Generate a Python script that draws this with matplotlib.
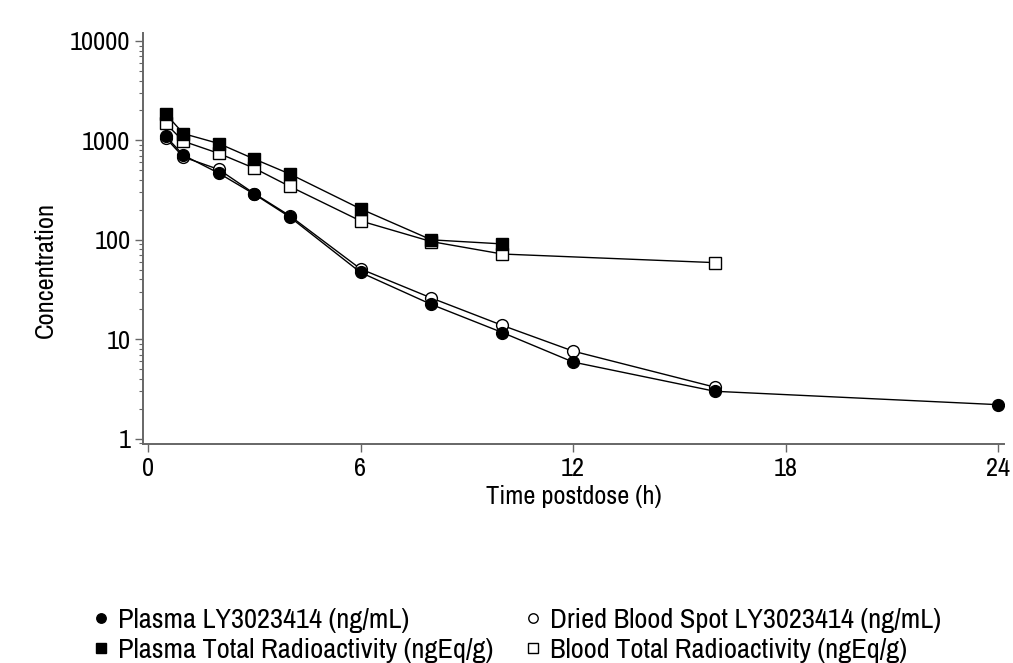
import matplotlib
matplotlib.use("Agg")
import matplotlib.pyplot as plt
from matplotlib.ticker import LogLocator, FixedLocator, NullFormatter

plt.rcParams['font.family'] = ['Archivo Narrow', 'Roboto Condensed', 'Liberation Sans', 'DejaVu Sans']

# Data
time_plasma_ly = [0.5, 1, 2, 3, 4, 6, 8, 10, 12, 16, 24]
plasma_ly = [1100, 710, 468, 288, 170, 47, 22.4, 11.7, 5.9, 3.0, 2.2]

time_dbs_ly = [0.5, 1, 2, 3, 4, 6, 8, 10, 12, 16]
dbs_ly = [1060, 680, 510, 292, 175, 51, 26, 13.8, 7.6, 3.3]

time_plasma_tra = [0.5, 1, 2, 3, 4, 6, 8, 10]
plasma_tra = [1850, 1170, 930, 650, 460, 205, 100, 91]

time_blood_tra = [0.5, 1, 2, 3, 4, 6, 8, 10, 16]
blood_tra = [1480, 980, 740, 525, 345, 155, 96, 72, 59]

labels = ["Plasma LY3023414 (ng/mL)", "Dried Blood Spot LY3023414 (ng/mL)",
          "Plasma Total Radioactivity (ngEq/g)", "Blood Total Radioactivity (ngEq/g)"]
x_ticks = [0, 6, 12, 18, 24]
y_ticks = [1, 10, 100, 1000, 10000]
y_ticklabels = ["1", "10", "100", "1000", "10000"]

W, H = 1013, 663
fig = plt.figure(figsize=(W/100, H/100), dpi=100)
ax = fig.add_axes([143/W, 1-444/H, (1004-143)/W, (444-33)/H])

lw = 1.0
ms = 8.5
h_dbs, = ax.plot(time_dbs_ly, dbs_ly, color='black', lw=lw, marker='o', ms=ms,
                 mfc='white', mec='black', mew=1.0, label=labels[1])
h_btra, = ax.plot(time_blood_tra, blood_tra, color='black', lw=lw, marker='s', ms=ms,
                  mfc='white', mec='black', mew=1.0, label=labels[3])
h_ply, = ax.plot(time_plasma_ly, plasma_ly, color='black', lw=lw, marker='o', ms=ms,
                 mfc='black', mec='black', label=labels[0])
h_ptra, = ax.plot(time_plasma_tra, plasma_tra, color='black', lw=lw, marker='s', ms=ms,
                  mfc='black', mec='black', label=labels[2])

ax.set_yscale('log')
ax.set_ylim(10**(-0.053), 10**4.08)
ax.set_xlim(-0.14, 24.16)
ax.yaxis.set_major_locator(FixedLocator(y_ticks))
ax.set_yticklabels(y_ticklabels)
ax.yaxis.set_minor_locator(LogLocator(base=10, subs=range(2, 10)))
ax.yaxis.set_minor_formatter(NullFormatter())
ax.set_xticks(x_ticks)
ax.set_xticklabels([str(t) for t in x_ticks])

for s in ['top', 'right']:
    ax.spines[s].set_visible(False)
for s in ['left', 'bottom']:
    ax.spines[s].set_color('#666666')
    ax.spines[s].set_linewidth(1.4)
ax.tick_params(axis='both', which='major', length=6, width=1.0, color='#666666',
               labelsize=19, pad=3)
ax.tick_params(axis='y', which='minor', length=3, width=0.8, color='#666666')

ax.set_xlabel("Time postdose (h)", fontsize=19, labelpad=4)
ax.set_ylabel("Concentration", fontsize=19, labelpad=16)
ax.yaxis.set_label_coords(-(143-45)/(1004-143), (444-270)/(444-33))
ax.yaxis.label.set_va('center')

common = dict(frameon=False, loc='upper left', fontsize=20.5, handlelength=0.5,
              handletextpad=0.35, labelspacing=0.16, markerscale=0.8,
              borderaxespad=0, borderpad=0)
leg1 = fig.legend(handles=[h_ply, h_ptra], bbox_to_anchor=(94/W, 1-608/H), **common)
leg2 = fig.legend(handles=[h_dbs, h_btra], bbox_to_anchor=(526/W, 1-608/H), **common)
for leg in (leg1, leg2):
    for h in leg.legend_handles:
        h.set_linestyle('None')

fig.savefig("out.png", dpi=100)
